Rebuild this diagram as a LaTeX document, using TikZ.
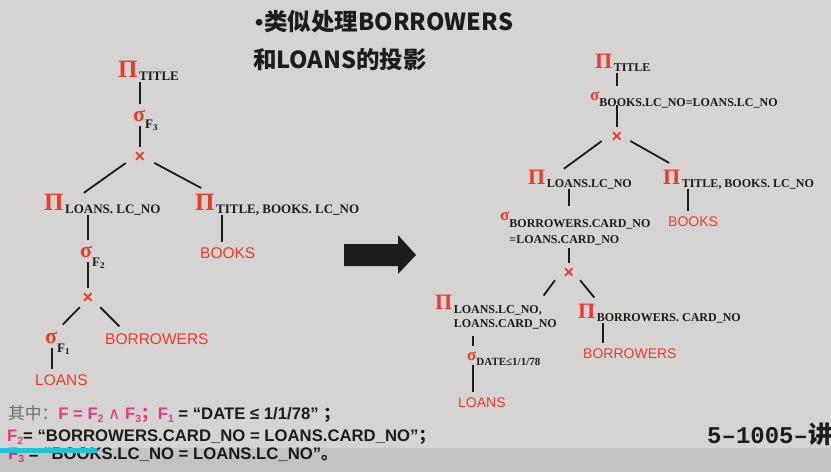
\documentclass[tikz,border=0pt]{standalone}
\usepackage{fontspec}
\setmainfont{Liberation Serif}
\newfontfamily\labfont{Liberation Sans}
\newfontfamily\notefont{Liberation Sans}
\newfontfamily\cjk{Noto Sans CJK SC}
\newfontfamily\djvfont{DejaVu Sans}
\newfontfamily\codefont{Liberation Mono}
\usepackage{xcolor}
\usetikzlibrary{calc}
\definecolor{slateBg}  {HTML}{D6D4D2}
\definecolor{opRed}    {HTML}{EC3A2B}
\definecolor{notePink} {HTML}{E8378B}
\definecolor{noteGray} {HTML}{6E6E6E}
\definecolor{inkDark}  {HTML}{1C1C1C}
\definecolor{barCyan}  {HTML}{1CC3D9}
% operator symbols with their subscripts
\newcommand{\idx}[1]{\raisebox{-2.5pt}{\fontsize{9}{9}\selectfont #1}}
\newcommand{\fidx}[1]{\raisebox{-3pt}{\fontsize{10.5}{10.5}\selectfont #1}}
\newcommand{\Pj}[3]{{\color{opRed}\bfseries\fontsize{#1}{#1}\selectfont Π}\kern1.5pt\raisebox{-3pt}[0pt][0pt]{\fontsize{#2}{#2}\selectfont\bfseries #3}}
\newcommand{\Pjm}[3]{{\color{opRed}\bfseries\fontsize{#1}{#1}\selectfont Π}\kern1.5pt\raisebox{-4pt}{\fontsize{#2}{14}\selectfont\bfseries\begin{tabular}[t]{@{}l@{}}#3\end{tabular}}}
\newcommand{\Sg}[4]{{\color{opRed}\bfseries\fontsize{#1}{#1}\selectfont σ}\raisebox{-#3}[0pt][0pt]{\fontsize{#2}{#2}\selectfont\bfseries #4}}
\newcommand{\Sgm}[4]{{\color{opRed}\bfseries\fontsize{#1}{#1}\selectfont σ}\raisebox{-#3}{\fontsize{#2}{16}\selectfont\bfseries\begin{tabular}[t]{@{}l@{}}#4\end{tabular}}}
\tikzset{
  opnode/.style  = {anchor=base west, inner sep=0pt, text=inkDark},
  relname/.style = {anchor=base west, inner sep=0pt, text=opRed,
                    font={\labfont\fontsize{15.5}{15.5}\selectfont}},
  relsmall/.style= {relname, font={\labfont\fontsize{14}{14}\selectfont}},
  crossop/.style = {inner sep=0pt, text=opRed,
                    font={\labfont\bfseries\fontsize{18}{18}\selectfont}},
  link/.style    = {line width=1.8pt, draw=inkDark, shorten <=5pt, shorten >=5pt},
  diag/.style    = {link, shorten <=1pt, shorten >=1pt},
  heading/.style = {anchor=base west, inner sep=0pt, text=inkDark,
                    font={\cjk\bfseries\fontsize{23.5}{23.5}\selectfont}},
  note/.style    = {anchor=base west, inner sep=0pt, text=inkDark,
                    font={\notefont\bfseries\fontsize{16.7}{16.7}\selectfont}},
}
\begin{document}
\begin{tikzpicture}[x=1pt,y=-1pt]
  \fill[slateBg] (0,0) rectangle (831,472);
  \useasboundingbox (0,0) rectangle (831,472);

  % ---- heading ----
  \node[heading] (ttl1) at (255,30) {{\labfont •}\kern1pt 类似处理BORROWERS};
  \node[heading] (ttl2) at (253,68) {和LOANS的投影};

  % ---- left tree (before) ----
  \node[opnode]  (tp) at (118,77)  {\Pj{25}{13}{TITLE}};
  \node[opnode]  (s3) at (133,121) {\Sg{22}{13}{7pt}{F\idx{3}}};
  \node[crossop] (x1) at (140,157) {×};
  \node[opnode]  (p2) at (44,210)  {\Pj{25}{13}{LOANS. LC\_NO}};
  \node[opnode]  (p3) at (195,210) {\Pj{25}{13}{TITLE, BOOKS. LC\_NO}};
  \node[opnode]  (s2) at (80,257)  {\Sg{22}{13}{9pt}{F\idx{2}}};
  \node[relname] (bk) at (200,258) {BOOKS};
  \node[crossop] (x2) at (88,298)  {×};
  \node[opnode]  (s1) at (45,343)  {\Sg{22}{13}{9pt}{F\idx{1}}};
  \node[relname] (br) at (105,344) {BORROWERS};
  \node[relname] (ln) at (35,385)  {LOANS};

  \draw[link] (tp.south -| x1) -- (s3.north -| x1);
  \draw[link] (s3.south -| x1) -- (x1.north);
  \draw[diag] ($(x1.south west)+(-8,0)$) -- ($(p2.north -| s2.west)+(3,0)$);
  \draw[diag] ($(x1.south east)+(8,0)$) -- ($(p3.north west)+(7,-5)$);
  \draw[link] (p2.south -| x2) -- (s2.north -| x2);
  \draw[link] ($(p3.south west)+(27,0)$) -- ($(bk.north west)+(22,0)$);
  \draw[link] (s2.south -| x2) -- (x2.north);
  \draw[diag] ($(x2.south west)+(-2,3)$) -- ($(s1.north west)+(17,-6)$);
  \draw[diag] ($(x2.south east)+(6,3)$) -- ($(br.north west)+(15,-6)$);
  \draw[link] ($(s1.south west)+(7,0)$) -- ($(ln.north west)+(17,0)$);

  % ---- big arrow ----
  \fill[inkDark] (344,244) -- (398,244) -- (398,235) -- (416,255)
                 -- (398,274) -- (398,266) -- (344,266) -- cycle;

  % ---- right tree (after) ----
  \node[opnode]   (rtp) at (595,68)  {\Pj{22}{12}{TITLE}};
  \node[opnode]   (rs1) at (590,100) {\Sg{17}{12}{6pt}{BOOKS.LC\_NO=LOANS.LC\_NO}};
  \node[crossop]  (rx1) at (617,137) {×};
  \node[opnode]   (rp1) at (528,184) {\Pj{22}{12}{LOANS.LC\_NO}};
  \node[opnode]   (rp2) at (663,184) {\Pj{22}{12}{TITLE, BOOKS. LC\_NO}};
  \node[opnode]   (rs2) at (500,220) {\Sgm{17}{12}{7pt}{BORROWERS.CARD\_NO\\=LOANS.CARD\_NO}};
  \node[relsmall] (rbk) at (668,226) {BOOKS};
  \node[crossop]  (rx2) at (569,273) {×};
  \node[opnode]   (rp3) at (435,309) {\Pjm{22}{12}{LOANS.LC\_NO,\\LOANS.CARD\_NO}};
  \node[opnode]   (rp4) at (578,318) {\Pj{22}{12}{BORROWERS. CARD\_NO}};
  \node[opnode]   (rs3) at (467,360) {\Sg{17}{11}{5pt}{DATE≤1/1/78}};
  \node[relsmall] (rbr) at (583,358) {BORROWERS};
  \node[relsmall] (rln) at (458,407) {LOANS};

  \draw[link] (rtp.south -| rx1) -- (rs1.north -| rx1);
  \draw[link] (rs1.south -| rx1) -- (rx1.north);
  \draw[diag] ($(rx1.south west)+(-9,-2)$) -- ($(rp1.north west)+(35,0)$);
  \draw[diag] ($(rx1.south east)+(7,-2)$) -- ($(rp2.north west)+(7,-6)$);
  \draw[link] (rp1.south -| rx2) -- (rs2.north -| rx2);
  \draw[link] ($(rp2.south west)+(25,0)$) -- ($(rbk.north west)+(20,0)$);
  \draw[link, shorten <=0pt] (rs2.south -| rx2) -- (rx2.north);
  \draw[diag] ($(rx2.south west)+(-8,1)$) -- ($(rp3.north west)+(108,2)$);
  \draw[diag] ($(rx2.south east)+(5,1)$) -- ($(rp4.north west)+(17,-5)$);
  \draw[link] ($(rp3.south west)+(38,0)$) -- ($(rs3.north west)+(6,0)$);
  \draw[link] ($(rp4.south west)+(25,0)$) -- ($(rbr.north west)+(20,0)$);
  \draw[link] ($(rs3.south west)+(6,0)$) -- ($(rln.north west)+(15,0)$);

  % ---- footnote ----
  \node[note] (fn1) at (8,419) {{\cjk\mdseries\color{noteGray}其中：}\textcolor{notePink}{F = F\fidx{2} {\djvfont\mdseries ∧} F\fidx{3}{\cjk ；}}\textcolor{notePink}{F\fidx{1}} = “DATE ≤ 1/1/78” {\cjk ；}};
  \node[note] (fn2) at (7,441) {\textcolor{notePink}{F\fidx{2}}= “BORROWERS.CARD\_NO = LOANS.CARD\_NO”{\cjk ；}};
  \node[note] (fn3) at (8,459) {\textcolor{notePink}{F\fidx{3}} = “BOOKS.LC\_NO = LOANS.LC\_NO”{\cjk 。}};
  \node[anchor=base west, inner sep=0pt, text=inkDark,
        font={\codefont\bfseries\fontsize{24}{24}\selectfont}] (lec) at (707,443) {5–1005–{\cjk 讲}};

  % ---- player bar ----
  \fill[black, opacity=0.08] (0,448) rectangle (831,472);
  \fill[barCyan] (0,448) rectangle (97,453);
\end{tikzpicture}
\end{document}
